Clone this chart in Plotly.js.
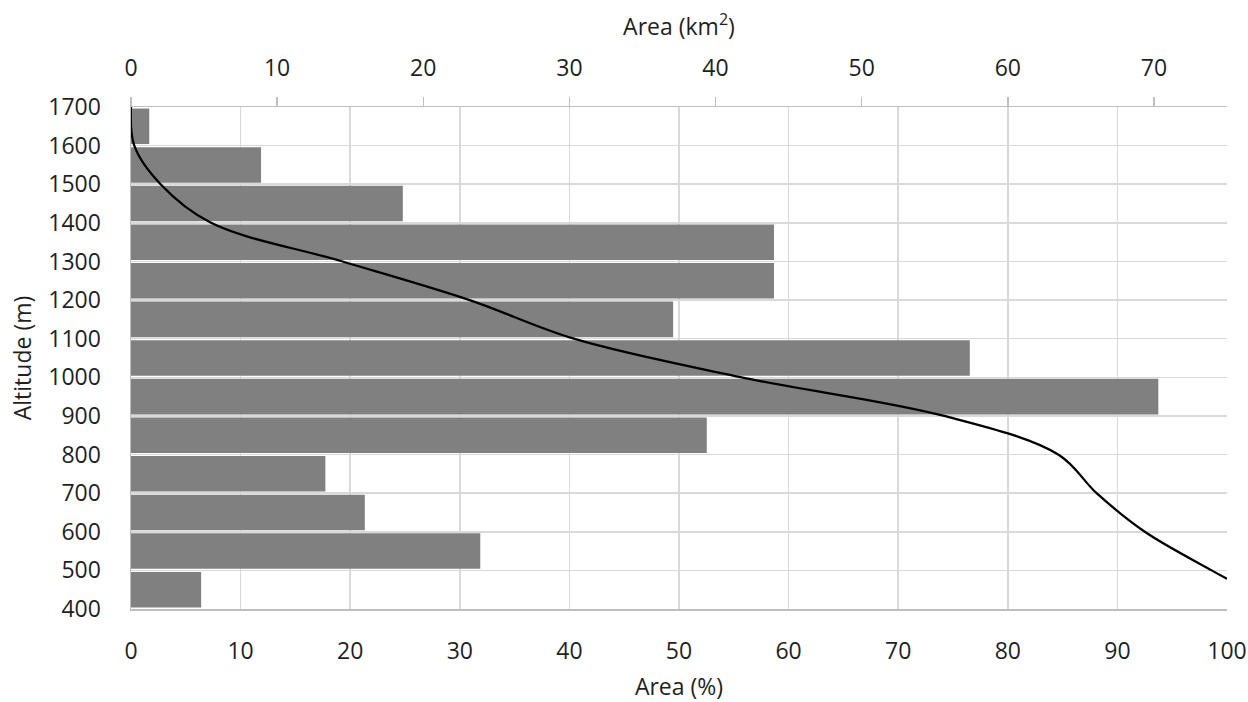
<!DOCTYPE html>
<html><head><meta charset="utf-8">
<script src="https://cdn.plot.ly/plotly-3.0.1.min.js"></script>
<style>html,body{margin:0;padding:0;background:#fff}</style>
</head><body><div id="chart" style="width:1248px;height:702px"></div>
<script>
// Altitude bands (centre of each 100 m band) and area per band (km²)
const altitudeBands = [450, 550, 650, 750, 850, 950, 1050, 1150, 1250, 1350, 1450, 1550, 1650];
const areaKm2 = [4.8, 23.9, 16.0, 13.3, 39.4, 70.3, 57.4, 37.1, 44.0, 44.0, 18.6, 8.9, 1.25];

// Hypsometric curve: altitude (m) vs cumulative area (%)
const curveAltitude = [1700, 1600, 1500, 1400, 1300, 1200, 1100, 1000, 900, 800, 700, 600, 500, 478];
const curvePercent  = [0, 0.3, 2.7, 7.3, 19.3, 30.9, 40.4, 55.7, 74.2, 84.6, 88.1, 92.5, 98.6, 100];

// Tick values
const altitudeTicks = [400, 500, 600, 700, 800, 900, 1000, 1100, 1200, 1300, 1400, 1500, 1600, 1700];
const percentTicks = [0, 10, 20, 30, 40, 50, 60, 70, 80, 90, 100];
const km2Ticks = [0, 10, 20, 30, 40, 50, 60, 70];

const FONT = '"Open Sans", "Noto Sans", sans-serif';
const FS = 23;
const TXT = '#1f1f1f';
const GRID = '#d9d9d9';
const LINE = '#bfbfbf';

const traces = [
  {
    type: 'bar', orientation: 'h',
    x: areaKm2, y: altitudeBands,
    xaxis: 'x', yaxis: 'y',
    marker: {color: '#808080', line: {width: 0}},
    hoverinfo: 'x+y'
  },
  {
    type: 'scatter', mode: 'lines',
    x: curvePercent, y: curveAltitude,
    xaxis: 'x2', yaxis: 'y',
    line: {color: '#000000', width: 2.25, shape: 'spline', smoothing: 1},
    hoverinfo: 'x+y'
  }
];

const layout = {
  width: 1248, height: 702,
  margin: {l: 131, r: 21, t: 107, b: 93, pad: 0},
  paper_bgcolor: '#ffffff', plot_bgcolor: '#ffffff',
  font: {family: FONT, size: FS, color: TXT},
  showlegend: false,
  bargap: 0.08,
  // top axis: area in km² (bars)
  xaxis: {
    range: [0, 75], tickvals: km2Ticks, ticktext: km2Ticks.map(String),
    side: 'top', anchor: 'y',
    showgrid: false, showline: true, linecolor: LINE, linewidth: 1.5,
    zeroline: false, ticks: 'outside', ticklen: 9, tickwidth: 1.5, tickcolor: LINE,
    ticklabelstandoff: 11,
    tickfont: {family: FONT, size: FS, color: TXT},
    title: {text: 'Area (km<sup>2</sup>)', font: {family: FONT, size: FS, color: TXT}, standoff: 9}
  },
  // bottom axis: area in % (curve), carries the vertical grid
  xaxis2: {
    range: [0, 100], tickvals: percentTicks, ticktext: percentTicks.map(String),
    side: 'bottom', overlaying: 'x', anchor: 'y',
    showgrid: true, gridcolor: GRID, gridwidth: 1.5,
    showline: true, linecolor: LINE, linewidth: 1.5,
    zeroline: false, ticks: '', ticklabelstandoff: 21,
    tickfont: {family: FONT, size: FS, color: TXT},
    title: {text: 'Area (%)', font: {family: FONT, size: FS, color: TXT}, standoff: 19}
  },
  yaxis: {
    range: [400, 1700], tickvals: altitudeTicks, ticktext: altitudeTicks.map(String),
    showgrid: true, gridcolor: GRID, gridwidth: 1.5,
    showline: true, linecolor: LINE, linewidth: 1.5,
    zeroline: false, ticks: '', ticklabelstandoff: 24,
    tickfont: {family: FONT, size: FS, color: TXT},
    title: {text: 'Altitude (m)', font: {family: FONT, size: FS, color: TXT}, standoff: 10}
  }
};

Plotly.newPlot('chart', traces, layout, {displayModeBar: false, staticPlot: true});
</script>
</body></html>
